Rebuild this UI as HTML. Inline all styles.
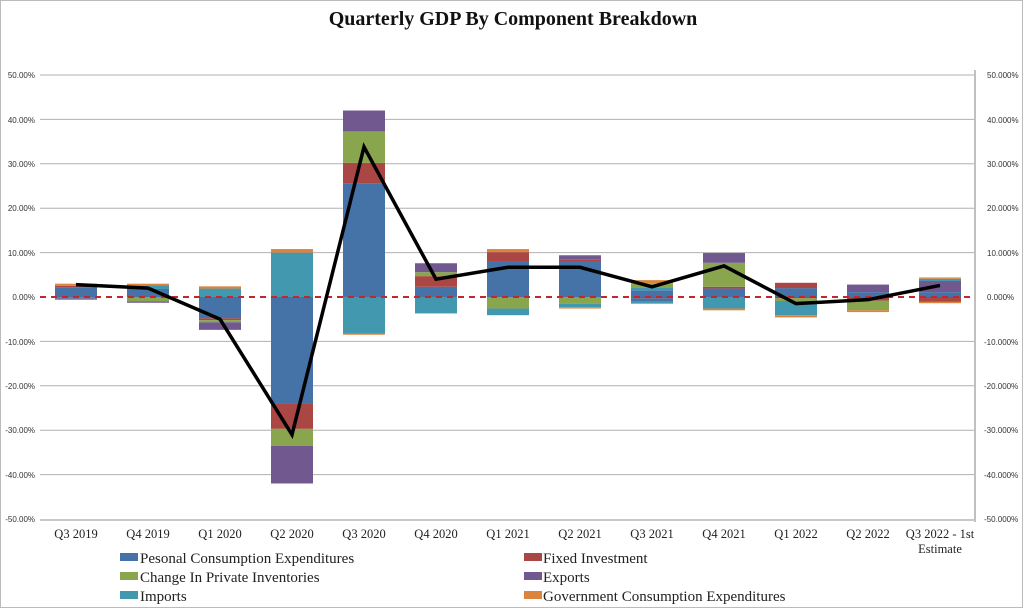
<!DOCTYPE html>
<html><head><meta charset="utf-8"><style>
html,body{margin:0;padding:0;background:#fff;}
svg{display:block;font-family:"Liberation Serif",serif;}
</style></head><body>
<svg id="s" width="1024" height="609" viewBox="0 0 1024 609" xmlns="http://www.w3.org/2000/svg">
<rect x="0.5" y="0.5" width="1022" height="607" fill="#fff" stroke="#bbb"/>
<text x="513" y="25" text-anchor="middle" font-size="20" font-weight="bold" fill="#111">Quarterly GDP By Component Breakdown</text>
<g id="grid" stroke="#b0b0b0" stroke-width="1"></g>
<line x1="975" y1="70" x2="975" y2="522" stroke="#c0c0c0" stroke-width="2"/>
<line x1="40" y1="520" x2="975" y2="520" stroke="#c8c8c8" stroke-width="2"/>
<g font-size="8" fill="#333" font-family="Liberation Sans, sans-serif">
<text x="35" y="78" text-anchor="end">50.00%</text><text x="35" y="123" text-anchor="end">40.00%</text><text x="35" y="167" text-anchor="end">30.00%</text><text x="35" y="211" text-anchor="end">20.00%</text><text x="35" y="256" text-anchor="end">10.00%</text><text x="35" y="300" text-anchor="end">0.00%</text><text x="35" y="345" text-anchor="end">-10.00%</text><text x="35" y="389" text-anchor="end">-20.00%</text><text x="35" y="433" text-anchor="end">-30.00%</text><text x="35" y="478" text-anchor="end">-40.00%</text><text x="35" y="522" text-anchor="end">-50.00%</text>
<text x="987" y="78">50.000%</text><text x="987" y="123">40.000%</text><text x="987" y="167">30.000%</text><text x="987" y="211">20.000%</text><text x="987" y="256">10.000%</text><text x="987" y="300">0.000%</text><text x="984" y="345">-10.000%</text><text x="984" y="389">-20.000%</text><text x="984" y="433">-30.000%</text><text x="984" y="478">-40.000%</text><text x="984" y="522">-50.000%</text>
</g>
<g id="bars"></g>
<line x1="40" y1="297" x2="975" y2="297" stroke="#c0282d" stroke-width="2" stroke-dasharray="6,5"/>
<polyline id="ln" fill="none" stroke="#000" stroke-width="3.5" stroke-linejoin="miter"/>
<g font-size="12.5" fill="#222" text-anchor="middle">
<text x="76" y="538">Q3 2019</text><text x="148" y="538">Q4 2019</text><text x="220" y="538">Q1 2020</text><text x="292" y="538">Q2 2020</text><text x="364" y="538">Q3 2020</text><text x="436" y="538">Q4 2020</text><text x="508" y="538">Q1 2021</text><text x="580" y="538">Q2 2021</text><text x="652" y="538">Q3 2021</text><text x="724" y="538">Q4 2021</text><text x="796" y="538">Q1 2022</text><text x="868" y="538">Q2 2022</text><text x="940" y="538">Q3 2022 - 1st</text><text x="940" y="553">Estimate</text>
</g>
<g font-size="15" fill="#222">
<rect x="120" y="553" width="18" height="8" fill="#4572A7"/><text x="140" y="563">Pesonal Consumption Expenditures</text>
<rect x="120" y="572" width="18" height="8" fill="#89A54E"/><text x="140" y="582">Change In Private Inventories</text>
<rect x="120" y="591" width="18" height="8" fill="#4198AF"/><text x="140" y="601">Imports</text>
<rect x="524" y="553" width="18" height="8" fill="#AA4643"/><text x="543" y="563">Fixed Investment</text>
<rect x="524" y="572" width="18" height="8" fill="#71588F"/><text x="543" y="582">Exports</text>
<rect x="524" y="591" width="18" height="8" fill="#DB843D"/><text x="543" y="601">Government Consumption Expenditures</text>
</g>
</svg>
<script>
var NS="http://www.w3.org/2000/svg";
function Y(v){return 297-v*4.44;}
var g=document.getElementById("grid");
for(var v=-40;v<=50;v+=10){if(v==0)continue;var l=document.createElementNS(NS,"line");l.setAttribute("x1",40);l.setAttribute("x2",975);l.setAttribute("y1",Y(v));l.setAttribute("y2",Y(v));g.appendChild(l);}
var C={P:"#4572A7",F:"#AA4643",I:"#89A54E",X:"#71588F",M:"#4198AF",G:"#DB843D"};
var D=[
[[["P",2.2],["F",0.3],["G",0.5]],[["M",-0.3],["X",-0.3]]],
[[["P",1.8],["M",0.8],["G",0.4]],[["I",-1.0],["X",-0.3]]],
[[["M",1.9],["G",0.5]],[["P",-4.8],["F",-0.4],["I",-0.5],["X",-1.7]]],
[[["M",10.0],["G",0.8]],[["P",-24],["F",-5.7],["I",-3.8],["X",-8.5]]],
[[["P",25.6],["F",4.6],["I",7.1],["X",4.7]],[["M",-8.3],["G",-0.2]]],
[[["P",2.3],["F",2.4],["I",0.9],["X",2.0]],[["M",-3.7]]],
[[["P",7.9],["F",2.2],["G",0.7]],[["I",-2.6],["M",-1.5]]],
[[["P",8.0],["F",0.5],["X",0.9]],[["I",-1.5],["M",-0.8],["G",-0.3]]],
[[["P",1.5],["M",0.7],["I",0.8],["G",0.8]],[["F",-0.3],["P",-0.6],["M",-0.6]]],
[[["P",1.9],["F",0.4],["I",5.4],["X",2.2]],[["M",-2.6],["G",-0.4]]],
[[["P",2.0],["F",1.2]],[["F",-0.3],["I",-0.6],["M",-3.2],["G",-0.5]]],
[[["P",1.1],["X",1.7]],[["F",-0.8],["I",-2.2],["G",-0.4]]],
[[["P",1.1],["X",2.5],["M",0.5],["G",0.3]],[["F",-1.1],["G",-0.3]]]
];
var L=[2.8,2.0,-5.0,-31.0,33.8,4.0,6.7,6.7,2.3,7.0,-1.5,-0.6,2.6];
var b=document.getElementById("bars");
function R(x,y1,y2,c){var r=document.createElementNS(NS,"rect");r.setAttribute("x",x);r.setAttribute("y",Math.min(y1,y2));r.setAttribute("width",42);r.setAttribute("height",Math.abs(y2-y1));r.setAttribute("fill",c);b.appendChild(r);}
var pts=[];
D.forEach(function(d,i){var cx=76+72*i,x=cx-21;
 var s=0;d[0].forEach(function(p){R(x,Y(s),Y(s+p[1]),C[p[0]]);s+=p[1];});
 s=0;d[1].forEach(function(p){R(x,Y(s),Y(s+p[1]),C[p[0]]);s+=p[1];});
 pts.push(cx+","+Y(L[i]));});
document.getElementById("ln").setAttribute("points",pts.join(" "));
</script>
</body></html>
